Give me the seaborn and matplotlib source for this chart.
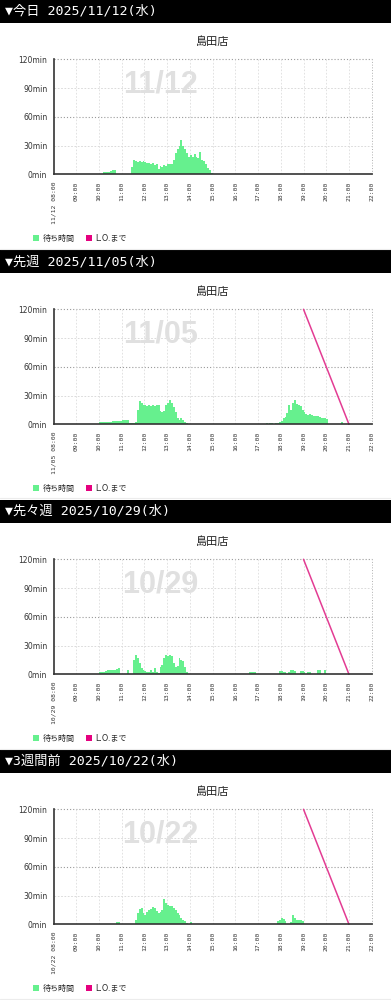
import numpy as np
import matplotlib
matplotlib.use('Agg')
import matplotlib.pyplot as plt
import seaborn as sns
from matplotlib.patches import Patch, Rectangle
from matplotlib.lines import Line2D

headers = ['▼今日 2025/11/12(水)', '▼先週 2025/11/05(水)',
           '▼先々週 2025/10/29(水)', '▼3週間前 2025/10/22(水)']
dates = ['11/12', '11/05', '10/29', '10/22']
store = '島田店'
y_ticks = [0, 30, 60, 90, 120]
y_labels = ['0min', '30min', '60min', '90min', '120min']
hours = list(range(8, 23))
hour_labels = [f'{h:02d}:00' for h in hours]
legend_labels = ['待ち時間', 'L.O.まで']

# wait minutes, 5 minute steps starting at 10:00 (one row per hour)
start_hour = 10
wait_1112 = [0, 0, 2, 2, 2, 2, 3, 4, 4, 0, 0, 0,
             0, 0, 0, 0, 0, 8, 15, 14, 13, 14, 13, 14,
             13, 12, 12, 11, 12, 10, 11, 6, 9, 8, 10, 9,
             11, 11, 11, 15, 22, 26, 30, 36, 30, 26, 22, 18,
             20, 18, 21, 18, 17, 23, 15, 14, 11, 7, 4, 1,
             0]
wait_1105 = [2, 2, 2, 2, 2, 2, 2, 3, 3, 3, 3, 3,
             4, 5, 4, 4, 1, 1, 1, 2, 15, 24, 22, 20,
             20, 19, 20, 19, 20, 19, 20, 20, 14, 13, 14, 20,
             22, 25, 22, 18, 13, 7, 5, 7, 4, 2, 1, 0,
             0, 0, 0, 0, 0, 0, 0, 0, 0, 0, 0, 0,
             0, 0, 0, 0, 0, 0, 0, 0, 0, 0, 0, 0,
             0, 0, 0, 0, 0, 0, 0, 0, 0, 0, 0, 0,
             0, 0, 0, 0, 1, 0, 1, 1, 0, 1, 1, 2,
             3, 7, 8, 12, 20, 15, 22, 25, 21, 20, 19, 15,
             13, 11, 10, 11, 10, 9, 9, 9, 8, 7, 7, 7,
             6, 0, 0, 0, 0, 0, 0, 0, 2, 0, 0, 0,
             0]
wait_1029 = [2, 2, 2, 3, 4, 4, 5, 5, 5, 6, 7, 0,
             0, 0, 0, 4, 0, 0, 15, 20, 17, 12, 7, 4,
             3, 2, 2, 5, 2, 7, 2, 1, 8, 10, 17, 20,
             19, 20, 19, 12, 8, 9, 17, 15, 14, 8, 2, 0,
             0, 0, 0, 0, 0, 0, 0, 0, 0, 0, 0, 0,
             0, 0, 0, 0, 0, 0, 0, 0, 0, 0, 0, 0,
             0, 0, 0, 0, 0, 0, 0, 2, 2, 2, 2, 0,
             0, 0, 0, 0, 0, 0, 0, 0, 0, 0, 0, 3,
             3, 2, 2, 0, 2, 4, 4, 3, 0, 0, 3, 3,
             2, 0, 2, 2, 0, 0, 0, 4, 4, 0, 0, 4,
             0]
wait_1022 = [0, 0, 0, 0, 0, 0, 0, 0, 0, 2, 2, 0,
             0, 0, 0, 0, 0, 0, 0, 5, 12, 16, 17, 12,
             10, 13, 15, 16, 18, 17, 14, 12, 13, 15, 26, 22,
             20, 19, 19, 17, 15, 12, 10, 7, 5, 3, 1, 0,
             2, 0, 0, 0, 0, 0, 0, 0, 0, 0, 0, 0,
             0, 0, 0, 0, 0, 0, 0, 0, 0, 0, 0, 0,
             0, 0, 0, 0, 0, 0, 0, 0, 0, 0, 0, 0,
             0, 0, 0, 0, 0, 0, 0, 0, 0, 0, 3, 5,
             7, 6, 3, 0, 0, 2, 10, 7, 4, 5, 4, 3,
             0]
waits = [wait_1112, wait_1105, wait_1029, wait_1022]

# last order countdown line
lo_hours = [19, 21]
lo_minutes = [120, 0]
lo_shown = [False, True, True, True]

GREEN = '#66f08e'
PINK = '#e5007f'
LINE_PINK = '#e33c93'

sns.set_style('white')
plt.rcParams['font.family'] = ['DejaVu Sans', 'Noto Sans CJK JP']

W, H = 391, 1000
fig = plt.figure(figsize=(W / 100, H / 100), dpi=100)
fig.patch.set_facecolor('white')


def fy(px):
    return 1 - px / H


for k in range(4):
    off = 250 * k
    # header bar
    fig.add_artist(Rectangle((0, fy(off + 23)), 1, 23 / H, transform=fig.transFigure,
                             color='black', lw=0))
    fig.text(5 / W, fy(off + 11.5), headers[k], color='white', fontsize=9.5,
             family=['DejaVu Sans Mono', 'Noto Sans CJK JP'], va='center', ha='left')
    # separator below the chart image
    fig.add_artist(Line2D([0, 1], [fy(off + 248.5)] * 2, transform=fig.transFigure,
                          color='#ececec', lw=0.8))
    fig.text(212.6 / W, fy(off + 41.5), store, fontsize=8, ha='center', va='center',
             color='#222222')

    ax = fig.add_axes([53.5 / W, fy(off + 174.3), 318.2 / W, 115 / H])
    ax.set_xlim(8, 22)
    ax.set_ylim(0, 120)

    for v in [30, 90]:
        ax.axhline(v, color='#d4d4d4', ls=(0, (2, 2)), lw=0.6, zorder=0)
    for v in [60, 120]:
        ax.axhline(v, color='#9a9a9a', ls=(0, (1, 1.8)), lw=0.8, zorder=0, clip_on=False)
    for h in hours[1:-1]:
        ax.axvline(h, color='#dddddd', ls=(0, (2, 2)), lw=0.6, zorder=0)
    ax.axvline(22, color='#b0b0b0', ls=(0, (1, 1.8)), lw=0.7, zorder=0, clip_on=False)

    ax.text(0.336, 0.777, dates[k], transform=ax.transAxes, fontsize=22,
            family='Liberation Sans', fontweight='bold', color='#e0e0e0',
            ha='center', va='center', zorder=1)

    vals = np.array(waits[k], dtype=float)
    t = start_hour + np.arange(len(vals)) * 5 / 60
    ax.fill_between(t, vals, step='post', color=GREEN, lw=0, zorder=2)

    if lo_shown[k]:
        sns.lineplot(x=lo_hours, y=lo_minutes, ax=ax, color=LINE_PINK, lw=1.1,
                     zorder=3, clip_on=False)

    for s in ['top', 'right']:
        ax.spines[s].set_visible(False)
    for s in ['left', 'bottom']:
        ax.spines[s].set_color('#333333')
        ax.spines[s].set_linewidth(1.2)
        ax.spines[s].set_zorder(4)

    ax.set_yticks(y_ticks)
    ax.set_yticklabels(y_labels)
    ax.tick_params(axis='y', direction='out', length=2.5, width=0.8, pad=2,
                   labelsize=5.5, colors='#333333')
    labels = hour_labels.copy()
    labels[0] = f'{dates[k]} {labels[0]}'
    ax.set_xticks(hours)
    ax.set_xticklabels(labels, rotation=90, fontsize=4.6, family='DejaVu Sans Mono',
                       va='top', ha='center', color='#333333')
    ax.tick_params(axis='x', direction='in', length=3, width=0.8, pad=5,
                   colors='#333333')
    ax.set_xlabel('')
    ax.set_ylabel('')

    handles = [Patch(facecolor=GREEN, edgecolor='none'), Patch(facecolor=PINK, edgecolor='none')]
    ax.legend(handles, legend_labels, loc='center left',
              bbox_to_anchor=(33 / W, fy(off + 238)), bbox_transform=fig.transFigure,
              ncol=2, frameon=False, fontsize=5.8, handlelength=0.75, handleheight=0.75,
              handletextpad=0.4, columnspacing=1.4, borderpad=0, borderaxespad=0)

fig.savefig('out.png', dpi=100)
